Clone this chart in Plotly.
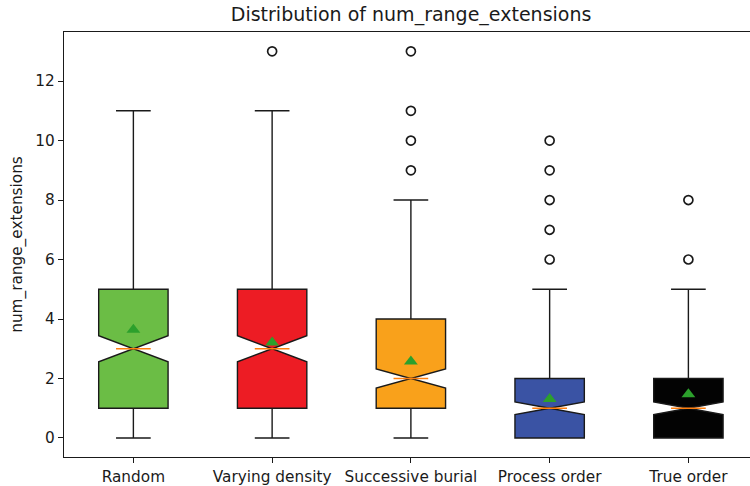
import plotly.graph_objects as go

# Summary statistics per ordering strategy
categories = ["Random", "Varying density", "Successive burial", "Process order", "True order"]
q1 = [1, 1, 1, 0, 0]
medians = [3, 3, 2, 1, 1]
q3 = [5, 5, 4, 2, 2]
lower_whisker = [0, 0, 0, 0, 0]
upper_whisker = [11, 11, 8, 5, 5]
means = [3.64, 3.21, 2.57, 1.31, 1.47]
notch_spans = [0.44, 0.44, 0.32, 0.21, 0.21]
outliers = [
    [],
    [13],
    [9, 10, 11, 13],
    [6, 7, 8, 9, 10],
    [6, 8],
]
fill_colors = ["#6bbd45", "#ed1c24", "#f9a11b", "#3a53a4", "#030303"]

BOX_WIDTH = 0.5
NOTCH_WIDTH = 0.5
FONT = "DejaVu Sans"

positions = list(range(1, len(categories) + 1))

fig = go.Figure()

for pos, name, a, m, b, lo, hi, ns, fc in zip(
    positions, categories, q1, medians, q3, lower_whisker, upper_whisker, notch_spans, fill_colors
):
    fig.add_trace(go.Box(
        x=[pos], q1=[a], median=[m], q3=[b],
        lowerfence=[lo], upperfence=[hi], notchspan=[ns],
        notched=True, notchwidth=NOTCH_WIDTH, width=BOX_WIDTH, whiskerwidth=0.5,
        fillcolor=fc, line=dict(color="#1a1a1a", width=1.4),
        boxpoints=False, name=name, showlegend=False, hoverinfo="skip",
    ))
    # median line in the notch
    half = BOX_WIDTH * (1 - NOTCH_WIDTH) / 2
    fig.add_trace(go.Scatter(
        x=[pos - half, pos + half], y=[m, m], mode="lines",
        line=dict(color="#ff7f0e", width=1.6), showlegend=False, hoverinfo="skip",
    ))

# outlier markers
ox, oy = [], []
for pos, vals in zip(positions, outliers):
    ox += [pos] * len(vals)
    oy += vals
fig.add_trace(go.Scatter(
    x=ox, y=oy, mode="markers",
    marker=dict(symbol="circle-open", size=9, color="#1a1a1a", line=dict(width=1.7)),
    showlegend=False,
))

# mean markers
fig.add_trace(go.Scatter(
    x=positions, y=means, mode="markers",
    marker=dict(symbol="triangle-up", size=12, color="#2ca02c"),
    showlegend=False,
))

fig.update_layout(
    width=750, height=486,
    margin=dict(l=64, r=0, t=32, b=29),
    plot_bgcolor="white", paper_bgcolor="white",
    font=dict(family=FONT, size=15.3, color="#1a1a1a"),
    boxmode="overlay",
    title=dict(
        text="Distribution of num_range_extensions",
        font=dict(family=FONT, size=19, color="#1a1a1a"),
        x=0.506, xanchor="center", xref="paper",
        y=1 - 8 / 486, yanchor="top", yref="container",
    ),
    xaxis=dict(
        range=[0.5, 5.444], tickmode="array", tickvals=positions, ticktext=categories,
        showgrid=False, zeroline=False,
        showline=True, mirror=True, linecolor="#1a1a1a", linewidth=1.3,
        ticks="outside", ticklen=5, tickcolor="#1a1a1a",
        tickfont=dict(family=FONT, size=15.3),
    ),
    yaxis=dict(
        range=[-0.64, 13.65], tickmode="array", tickvals=[0, 2, 4, 6, 8, 10, 12],
        showgrid=False, zeroline=False,
        showline=True, linecolor="#1a1a1a", linewidth=1.3,
        ticks="outside", ticklen=5, tickcolor="#1a1a1a",
        tickfont=dict(family=FONT, size=15.3),
        title=dict(text="num_range_extensions", font=dict(family=FONT, size=15.3), standoff=8),
    ),
)

fig.write_html("out.html")
